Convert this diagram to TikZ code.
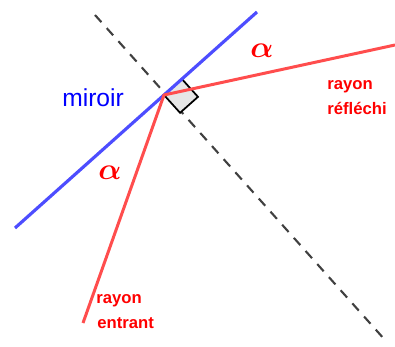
\documentclass[tikz,border=0pt]{standalone}
\usepackage{amsmath,amssymb,bm}
\usepackage{fontspec}
\setsansfont{Liberation Sans}
\usepackage{tikz}
\usetikzlibrary{calc}
\definecolor{bleuM}{HTML}{4D4DFF}
\definecolor{rougeR}{HTML}{FF4D4D}
\definecolor{bleuT}{HTML}{0000FF}
\definecolor{rougeT}{HTML}{FF0000}
\definecolor{grisN}{HTML}{404040}
\definecolor{grisC}{HTML}{E6E6E6}

\begin{document}
\begin{tikzpicture}[x=0.02cm,y=-0.02cm,
    rayon/.style={rougeR,line width=1.7pt},
    etiq/.style={rougeT,font=\sffamily\bfseries\fontsize{9.5}{10}\selectfont,inner sep=0pt,anchor=base west},
    angleA/.style={rougeT,font=\fontsize{17}{17}\selectfont}]
          \useasboundingbox (0,0) rectangle (395,347);
          \coordinate (P) at (164,95);
          \coordinate (mirH) at (257,12);
          \coordinate (mirB) at (15,228);
          \coordinate (normH) at (95,15);
          \coordinate (normB) at (385,340);
          \coordinate (entree) at (83,323);
          \coordinate (sortie) at (395,45);
          \coordinate (qa) at ($(P)!0.48cm!(mirH)$);
          \coordinate (qb) at ($(P)!0.48cm!(normB)$);
          \coordinate (qc) at ($(qa)+(qb)-(P)$);
          \draw[grisN,line width=1.2pt,dash pattern=on 5.5pt off 4.5pt] (normH) -- (normB);
          \filldraw[fill=grisC,draw=black,line width=1pt] (P) -- (qa) -- (qc) -- (qb) -- cycle;
          \draw[bleuM,line width=1.8pt] (mirB) -- (mirH);
          \draw[rayon] (entree) -- (P) -- (sortie);
          \node[bleuT,font=\sffamily\fontsize{14}{14}\selectfont,inner sep=0pt,anchor=base west] (miroir) at (62,107) {miroir};
          \node[angleA] (alphaE) at (110,173) {$\bm{\alpha}$};
          \node[angleA] (alphaR) at (262,51) {$\bm{\alpha}$};
          \node[etiq] (rayonR) at (327,90) {rayon};
          \node[etiq] (refl) at (327,115) {réfléchi};
          \node[etiq] (rayonE) at (96,303) {rayon};
          \node[etiq] (entrant) at (97,328) {entrant};
        \end{tikzpicture}
\end{document}
